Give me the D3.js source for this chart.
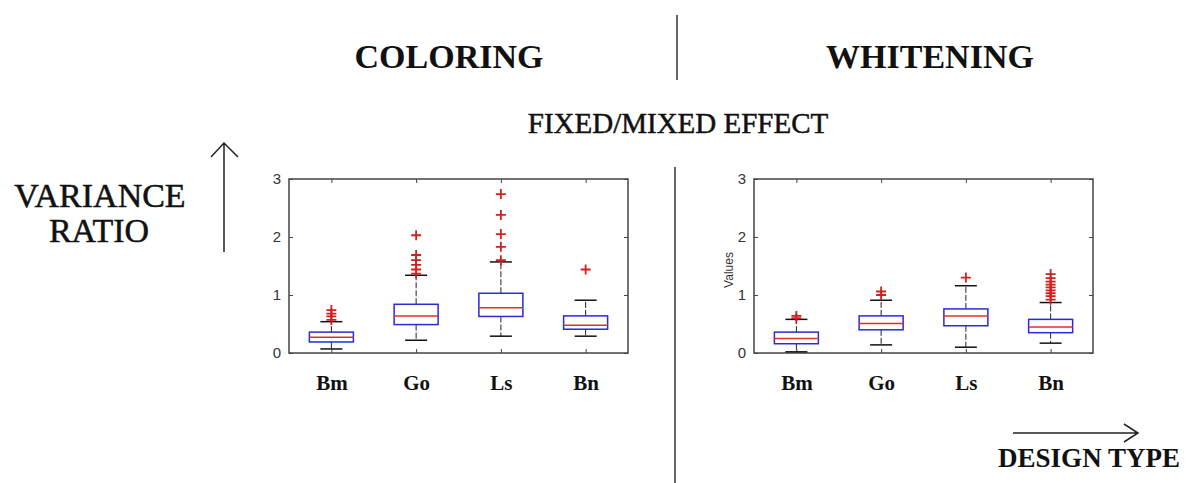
<!DOCTYPE html>
<html>
<head>
<meta charset="utf-8">
<script src="https://cdn.jsdelivr.net/npm/d3@7"></script>
<style>
  body { margin: 0; background: #fff; }
  svg { display: block; }
  .serif { font-family: "Liberation Serif", "Times New Roman", serif; fill: #111; }
  .heavy { stroke: #111; stroke-width: 0.5px; }
</style>
</head>
<body>
<div id="chart"></div>
<script>
// categories and box statistics
var categories = ["Bm", "Go", "Ls", "Bn"];
var yTicks = [0, 1, 2, 3];

// coloring panel
var colLow    = [0.07, 0.22, 0.29, 0.29];
var colQ1     = [0.19, 0.49, 0.63, 0.41];
var colMedian = [0.27, 0.64, 0.78, 0.48];
var colQ3     = [0.36, 0.84, 1.03, 0.64];
var colHigh   = [0.54, 1.34, 1.57, 0.91];
var colOutliers = [
  [0.57, 0.63, 0.68, 0.74],
  [1.37, 1.44, 1.52, 1.60, 1.69, 2.03],
  [1.60, 1.83, 2.05, 2.38, 2.74],
  [1.44]
];

// whitening panel
var whiLow    = [0.02, 0.14, 0.10, 0.17];
var whiQ1     = [0.16, 0.40, 0.47, 0.35];
var whiMedian = [0.25, 0.51, 0.64, 0.45];
var whiQ3     = [0.36, 0.64, 0.76, 0.58];
var whiHigh   = [0.58, 0.91, 1.16, 0.87];
var whiOutliers = [
  [0.60, 0.64],
  [1.00, 1.06],
  [1.30],
  [0.92, 0.98, 1.03, 1.08, 1.13, 1.18, 1.23, 1.29, 1.36]
];

var W = 1190, H = 483;

var svg = d3.select("#chart")
  .append("svg")
  .attr("width", W)
  .attr("height", H);

// titles and decorations
svg.append("text").attr("class", "serif")
  .attr("x", 449).attr("y", 68)
  .attr("text-anchor", "middle")
  .style("font-size", "34px").style("font-weight", "bold")
  .text("COLORING");

svg.append("text").attr("class", "serif")
  .attr("x", 930).attr("y", 68)
  .attr("text-anchor", "middle")
  .style("font-size", "34px").style("font-weight", "bold")
  .text("WHITENING");

svg.append("line")
  .attr("x1", 677).attr("x2", 677).attr("y1", 15).attr("y2", 80)
  .attr("stroke", "#333").attr("stroke-width", 1.5);

svg.append("text").attr("class", "serif heavy")
  .attr("x", 678).attr("y", 133)
  .attr("text-anchor", "middle")
  .style("font-size", "29px")
  .text("FIXED/MIXED EFFECT");

svg.append("line")
  .attr("x1", 675).attr("x2", 675).attr("y1", 167).attr("y2", H)
  .attr("stroke", "#333").attr("stroke-width", 1.5);

svg.append("text").attr("class", "serif heavy")
  .attr("x", 100).attr("y", 207)
  .attr("text-anchor", "middle")
  .style("font-size", "34px")
  .text("VARIANCE");
svg.append("text").attr("class", "serif heavy")
  .attr("x", 99).attr("y", 242)
  .attr("text-anchor", "middle")
  .style("font-size", "34px")
  .text("RATIO");

// up arrow
svg.append("path")
  .attr("d", "M224,252 L224,143 M211,157 L224,143 L238,157")
  .attr("fill", "none").attr("stroke", "#222").attr("stroke-width", 1.5);

// right arrow
svg.append("path")
  .attr("d", "M1013,433 L1138,433 M1124,424 L1138,433 L1124,442")
  .attr("fill", "none").attr("stroke", "#222").attr("stroke-width", 1.5);

svg.append("text").attr("class", "serif")
  .attr("x", 1089).attr("y", 467)
  .attr("text-anchor", "middle")
  .style("font-size", "27px").style("font-weight", "bold")
  .text("DESIGN TYPE");

// draw one boxplot panel
function drawPanel(left, low, q1, med, q3, high, outliers, yLabel) {
  var top = 179, w = 339, h = 174;
  var g = svg.append("g").attr("transform", "translate(" + left + "," + top + ")");

  var x = d3.scalePoint().domain(categories).range([0, w]).padding(0.5);
  var y = d3.scaleLinear().domain([0, 3]).range([h, 0]);

  var boxW = 44, capW = 22;

  var rows = categories.map(function(c, i) {
    return {cat: c, low: low[i], q1: q1[i], med: med[i], q3: q3[i], high: high[i], out: outliers[i]};
  });

  // frame
  g.append("rect")
    .attr("width", w).attr("height", h)
    .attr("fill", "#fff").attr("stroke", "#444").attr("stroke-width", 1.5);

  // axes with inward ticks on all four sides
  var yAxis = g.append("g")
    .call(d3.axisLeft(y).tickValues(yTicks).tickSize(-4).tickPadding(8).tickFormat(d3.format("d")));
  yAxis.select(".domain").remove();
  yAxis.selectAll("text")
    .style("font-family", "'Liberation Sans', Arial, sans-serif")
    .style("font-size", "15px").attr("fill", "#333");
  yAxis.selectAll(".tick line").attr("stroke", "#444");

  var yAxisR = g.append("g").attr("transform", "translate(" + w + ",0)")
    .call(d3.axisRight(y).tickValues(yTicks).tickSize(-4).tickFormat(""));
  yAxisR.select(".domain").remove();
  yAxisR.selectAll(".tick line").attr("stroke", "#444");

  var xAxis = g.append("g").attr("transform", "translate(0," + h + ")")
    .call(d3.axisBottom(x).tickSize(-4).tickPadding(22));
  xAxis.select(".domain").remove();
  xAxis.selectAll(".tick line").attr("stroke", "#444");
  xAxis.selectAll("text")
    .style("font-family", "'Liberation Serif', 'Times New Roman', serif")
    .style("font-size", "21px").style("font-weight", "bold").attr("fill", "#111");

  var xAxisT = g.append("g")
    .call(d3.axisTop(x).tickSize(-4).tickFormat(""));
  xAxisT.select(".domain").remove();
  xAxisT.selectAll(".tick line").attr("stroke", "#444");

  var box = g.selectAll(".bx").data(rows).enter().append("g").attr("class", "bx")
    .attr("transform", function(d) { return "translate(" + x(d.cat) + ",0)"; });

  // whiskers
  box.append("line")
    .attr("y1", function(d) { return y(d.q3); }).attr("y2", function(d) { return y(d.high); })
    .attr("stroke", "#222").attr("stroke-dasharray", "6,2");
  box.append("line")
    .attr("y1", function(d) { return y(d.q1); }).attr("y2", function(d) { return y(d.low); })
    .attr("stroke", "#222").attr("stroke-dasharray", "6,2");
  box.append("line")
    .attr("x1", -capW / 2).attr("x2", capW / 2)
    .attr("y1", function(d) { return y(d.high); }).attr("y2", function(d) { return y(d.high); })
    .attr("stroke", "#111").attr("stroke-width", 1.5);
  box.append("line")
    .attr("x1", -capW / 2).attr("x2", capW / 2)
    .attr("y1", function(d) { return y(d.low); }).attr("y2", function(d) { return y(d.low); })
    .attr("stroke", "#111").attr("stroke-width", 1.5);

  // box
  box.append("rect")
    .attr("x", -boxW / 2).attr("width", boxW)
    .attr("y", function(d) { return y(d.q3); })
    .attr("height", function(d) { return y(d.q1) - y(d.q3); })
    .attr("fill", "#fff").attr("stroke", "#2a2ad8").attr("stroke-width", 1.5);

  // median
  box.append("line")
    .attr("x1", -boxW / 2).attr("x2", boxW / 2)
    .attr("y1", function(d) { return y(d.med); }).attr("y2", function(d) { return y(d.med); })
    .attr("stroke", "#e0302a").attr("stroke-width", 1.5);

  // outliers as red plus signs
  box.selectAll(".out").data(function(d) { return d.out; }).enter().append("path")
    .attr("class", "out")
    .attr("d", function(v) { var yy = y(v); return "M-5," + yy + "H5M0," + (yy - 5) + "V" + (yy + 5); })
    .attr("stroke", "#d02020").attr("stroke-width", 1.8);

  if (yLabel) {
    g.append("text")
      .attr("transform", "translate(-21," + (h / 2 + 4) + ") rotate(-90)")
      .attr("text-anchor", "middle")
      .style("font-family", "'Liberation Sans', Arial, sans-serif")
      .style("font-size", "12px").attr("fill", "#333")
      .text(yLabel);
  }
}

drawPanel(289, colLow, colQ1, colMedian, colQ3, colHigh, colOutliers, null);
drawPanel(754, whiLow, whiQ1, whiMedian, whiQ3, whiHigh, whiOutliers, "Values");
</script>
</body>
</html>
